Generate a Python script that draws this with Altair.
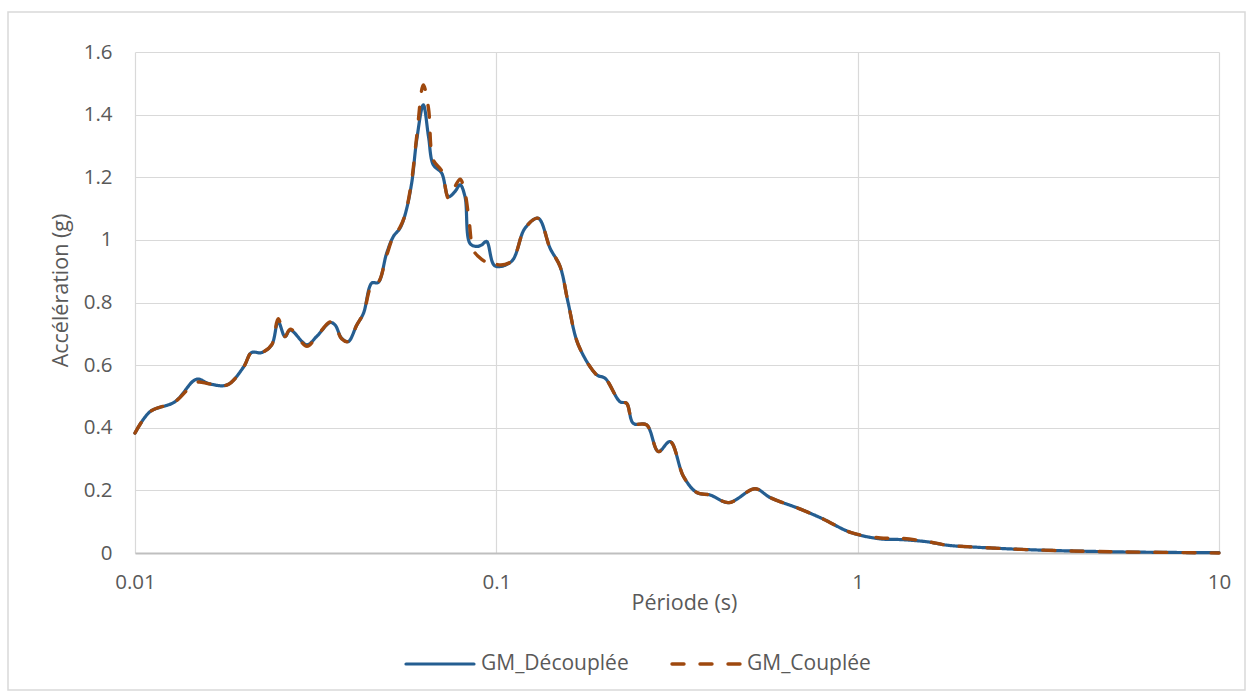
import altair as alt
import pandas as pd

# ---- data ----
periods_dec = [0.0100, 0.0110, 0.0129, 0.0148, 0.0161, 0.0180, 0.0200, 0.0210, 0.0224, 0.0239,
               0.0249, 0.0260, 0.0269, 0.0299, 0.0318, 0.0347, 0.0358, 0.0373, 0.0389, 0.0411,
               0.0429, 0.0452, 0.0471, 0.0497, 0.0519, 0.0541, 0.0559, 0.0583, 0.0602, 0.0628,
               0.0649, 0.0669, 0.0706, 0.0737, 0.0768, 0.0794, 0.0819, 0.0845, 0.0882, 0.0911,
               0.0940, 0.0991, 0.1101, 0.1200, 0.1305, 0.1409, 0.1501, 0.1581, 0.1686, 0.1896,
               0.2000, 0.2200, 0.2294, 0.2394, 0.2606, 0.2808, 0.3027, 0.3297, 0.3589, 0.3908,
               0.4400, 0.5200, 0.5724, 0.6946, 0.8043, 0.9546, 1.156, 1.309, 1.553, 1.765,
               2.091, 3.07, 5.0, 7.0, 10.0]
accel_dec = [0.383, 0.451, 0.483, 0.555, 0.540, 0.537, 0.595, 0.640, 0.640, 0.665,
             0.739, 0.691, 0.712, 0.665, 0.691, 0.736, 0.728, 0.686, 0.675, 0.728,
             0.766, 0.862, 0.864, 0.957, 1.011, 1.037, 1.080, 1.181, 1.319, 1.431,
             1.330, 1.240, 1.213, 1.138, 1.154, 1.176, 1.138, 0.989, 0.979, 0.984,
             0.995, 0.917, 0.931, 1.037, 1.069, 0.973, 0.915, 0.798, 0.665, 0.569,
             0.558, 0.483, 0.478, 0.414, 0.409, 0.324, 0.356, 0.244, 0.193, 0.185,
             0.161, 0.205, 0.177, 0.140, 0.108, 0.066, 0.045, 0.043, 0.036, 0.025,
             0.019, 0.010, 0.004, 0.002, 0.001]

periods_coup = [0.0100, 0.0110, 0.0129, 0.0148, 0.0161, 0.0180, 0.0200, 0.0210, 0.0224, 0.0239,
                0.0249, 0.0260, 0.0269, 0.0299, 0.0318, 0.0347, 0.0358, 0.0373, 0.0389, 0.0411,
                0.0429, 0.0452, 0.0471, 0.0497, 0.0519, 0.0541, 0.0559, 0.0583, 0.0602, 0.0628,
                0.0649, 0.0669, 0.0706, 0.0737, 0.0768, 0.0794, 0.0819, 0.0840, 0.0863, 0.0892,
                0.0934, 0.0979, 0.1000, 0.1101, 0.1200, 0.1305, 0.1409, 0.1501, 0.1581, 0.1686,
                0.1896, 0.2000, 0.2200, 0.2294, 0.2394, 0.2606, 0.2808, 0.3027, 0.3297, 0.3589,
                0.3908, 0.4400, 0.5200, 0.5724, 0.6946, 0.8043, 0.9546, 1.156, 1.309, 1.553,
                1.765, 2.091, 3.07, 5.0, 7.0, 10.0]
accel_coup = [0.383, 0.451, 0.483, 0.545, 0.540, 0.537, 0.595, 0.640, 0.640, 0.665,
              0.748, 0.691, 0.715, 0.660, 0.691, 0.738, 0.728, 0.684, 0.675, 0.728,
              0.766, 0.855, 0.864, 0.950, 1.011, 1.040, 1.080, 1.190, 1.330, 1.495,
              1.420, 1.256, 1.220, 1.133, 1.170, 1.194, 1.150, 1.064, 0.968, 0.947,
              0.931, 0.936, 0.922, 0.931, 1.037, 1.069, 0.973, 0.915, 0.798, 0.665,
              0.569, 0.558, 0.483, 0.478, 0.414, 0.409, 0.324, 0.356, 0.244, 0.193,
              0.185, 0.161, 0.205, 0.177, 0.140, 0.108, 0.066, 0.048, 0.047, 0.037,
              0.025, 0.019, 0.010, 0.004, 0.002, 0.000]

series_names = ["GM_Découplée", "GM_Couplée"]
series_colors = ["#255E91", "#9E480E"]
series_dashes = [[1, 0], [12, 16]]
series_widths = [3.2, 3.4]
x_ticks = [0.01, 0.1, 1, 10]
y_ticks = [0, 0.2, 0.4, 0.6, 0.8, 1.0, 1.2, 1.4, 1.6]

df = pd.concat([
    pd.DataFrame({"Série": series_names[0], "Période": periods_dec, "Accélération": accel_dec}),
    pd.DataFrame({"Série": series_names[1], "Période": periods_coup, "Accélération": accel_coup}),
], ignore_index=True)
df["ordre"] = range(len(df))

TEXT = "#595959"
FONT = "Open Sans"
LABEL_SIZE = 20.5
TITLE_SIZE = 21.5
LEGEND_SIZE = 21

lines = alt.Chart(df).mark_line(strokeCap="round", interpolate="catmull-rom").encode(
    x=alt.X("Période:Q",
            scale=alt.Scale(type="log", domain=[0.01, 10], nice=False),
            axis=alt.Axis(values=x_ticks, format="~g", title="Période (s)",
                          grid=True, gridColor="#d9d9d9", gridWidth=1.2,
                          domain=True, domainColor="#bfbfbf", domainWidth=2,
                          ticks=False, labelPadding=19, labelFontSize=LABEL_SIZE, labelColor=TEXT,
                          labelFont=FONT, labelFlush=False, labelOverlap=False,
                          titleFont=FONT, titleFontSize=TITLE_SIZE, titleColor=TEXT,
                          titleFontWeight="normal", titleX=549, titleY=50,
                          titleBaseline="middle", titleAlign="center")),
    y=alt.Y("Accélération:Q",
            scale=alt.Scale(domain=[0, 1.6], nice=False),
            axis=alt.Axis(values=y_ticks, format="~g", title="Accélération (g)",
                          grid=True, gridColor="#d9d9d9", gridWidth=1.2,
                          domain=False, ticks=False, labelPadding=23,
                          labelFontSize=LABEL_SIZE, labelColor=TEXT, labelFont=FONT,
                          labelFlush=False, labelOverlap=False,
                          titleFont=FONT, titleFontSize=TITLE_SIZE, titleColor=TEXT,
                          titleFontWeight="normal", titleX=-74, titleY=238,
                          titleAngle=270, titleBaseline="middle", titleAlign="center")),
    color=alt.Color("Série:N",
                    scale=alt.Scale(domain=series_names, range=series_colors),
                    sort=series_names, legend=None),
    strokeDash=alt.StrokeDash("Série:N",
                              scale=alt.Scale(domain=series_names, range=series_dashes),
                              sort=series_names, legend=None),
    strokeWidth=alt.StrokeWidth("Série:N",
                                scale=alt.Scale(domain=series_names, range=series_widths),
                                sort=series_names, legend=None),
    order=alt.Order("ordre:Q"),
)

# manual legend (Excel style, bottom centre)
legend_items = [
    {"name": series_names[0], "color": series_colors[0]},
    {"name": series_names[1], "color": series_colors[1]},
]
leg_solid = alt.Chart(alt.Data(values=[legend_items[0]])).mark_rule(
    strokeWidth=3.2, strokeCap="round", color=series_colors[0]
).encode(x=alt.value(271), x2=alt.value(339), y=alt.value(612))
leg_dash = alt.Chart(alt.Data(values=[legend_items[1]])).mark_rule(
    strokeWidth=3.4, strokeCap="round", color=series_colors[1], strokeDash=series_dashes[1]
).encode(x=alt.value(537), x2=alt.value(606), y=alt.value(612))
leg_text1 = alt.Chart(alt.Data(values=[legend_items[0]])).mark_text(
    align="left", baseline="middle", font=FONT, fontSize=LEGEND_SIZE, color=TEXT
).encode(x=alt.value(346), y=alt.value(612), text="name:N")
leg_text2 = alt.Chart(alt.Data(values=[legend_items[1]])).mark_text(
    align="left", baseline="middle", font=FONT, fontSize=LEGEND_SIZE, color=TEXT
).encode(x=alt.value(612), y=alt.value(612), text="name:N")

border = alt.Chart(alt.Data(values=[{}])).mark_rect(
    fillOpacity=0, stroke="#d9d9d9", strokeWidth=1.5
).encode(
    x=alt.value(-127), x2=alt.value(1110), y=alt.value(-40), y2=alt.value(638)
)

chart = alt.layer(border, lines, leg_solid, leg_dash, leg_text1, leg_text2).properties(
    width=1084, height=501,
    autosize=alt.AutoSizeParams(type="none"),
    padding={"left": 135, "top": 52, "right": 33, "bottom": 143},
    background="white",
).configure_view(stroke=None)

chart.save("out.html", embed_options={"renderer": "svg", "actions": False})
